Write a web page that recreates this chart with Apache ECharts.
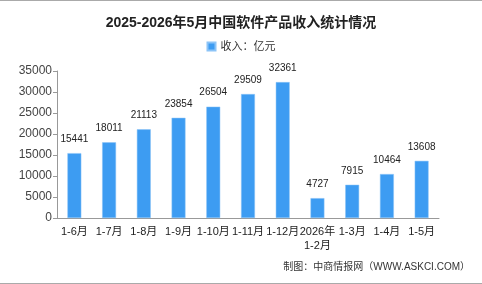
<!DOCTYPE html>
<html>
<head>
<meta charset="utf-8">
<script src="https://cdn.jsdelivr.net/npm/echarts@6/dist/echarts.min.js"></script>
<style>
  html, body { margin: 0; padding: 0; background: #fff; }
  #chart { width: 482px; height: 284px; }
</style>
</head>
<body>
<div id="chart"></div>
<script>
// 数据
const categories = ['1-6月', '1-7月', '1-8月', '1-9月', '1-10月', '1-11月', '1-12月', '2026年\n1-2月', '1-3月', '1-4月', '1-5月'];
const revenue = [15441, 18011, 21113, 23854, 26504, 29509, 32361, 4727, 7915, 10464, 13608];
const yTicks = [0, 5000, 10000, 15000, 20000, 25000, 30000, 35000];

const font = '"Liberation Sans", "Noto Sans CJK SC", sans-serif';
const chart = echarts.init(document.getElementById('chart'));

chart.setOption({
  animation: false,
  title: {
    text: '2025-2026年5月中国软件产品收入统计情况',
    left: 'center',
    top: 11,
    textStyle: { fontSize: 14, fontWeight: 'bold', color: '#222', fontFamily: font }
  },
  legend: {
    data: ['收入：亿元'],
    top: 36,
    left: 'center',
    itemWidth: 8,
    itemHeight: 8,
    itemGap: 4,
    icon: 'rect',
    textStyle: { fontSize: 11, color: '#333', fontFamily: font }
  },
  grid: { left: 57, right: 43, top: 71, bottom: 66, containLabel: false },
  xAxis: {
    type: 'category',
    data: categories,
    axisLine: { lineStyle: { color: '#999' } },
    axisTick: { lineStyle: { color: '#999' }, length: 4 },
    axisLabel: { color: '#222', fontSize: 11, fontFamily: font, interval: 0, margin: 7, lineHeight: 14 }
  },
  yAxis: {
    type: 'value',
    min: yTicks[0],
    max: yTicks[yTicks.length - 1],
    interval: 5000,
    axisLine: { show: true, lineStyle: { color: '#999' } },
    axisTick: { show: true, lineStyle: { color: '#999' }, length: 4 },
    axisLabel: { color: '#444', fontSize: 12, fontFamily: font, margin: 5, formatter: v => String(v) },
    splitLine: { show: false }
  },
  series: [{
    name: '收入：亿元',
    type: 'bar',
    data: revenue,
    barWidth: '40%',
    itemStyle: { color: '#3d9cf2', borderColor: '#8cc4f7', borderWidth: 0.5 },
    label: { show: true, position: 'top', distance: 9, color: '#222', fontSize: 10, fontFamily: font }
  }],
  graphic: [
    { type: 'rect', shape: { x: 0, y: 0, width: 482, height: 1 }, style: { fill: '#aaa' } },
    { type: 'rect', shape: { x: 0, y: 283, width: 482, height: 1 }, style: { fill: '#aaa' } },
    {
      type: 'text', right: 12, top: 262,
      style: { text: '制图：中商情报网（WWW.ASKCI.COM）', fill: '#333', fontSize: 10, fontFamily: font }
    }
  ]
});
</script>
</body>
</html>
